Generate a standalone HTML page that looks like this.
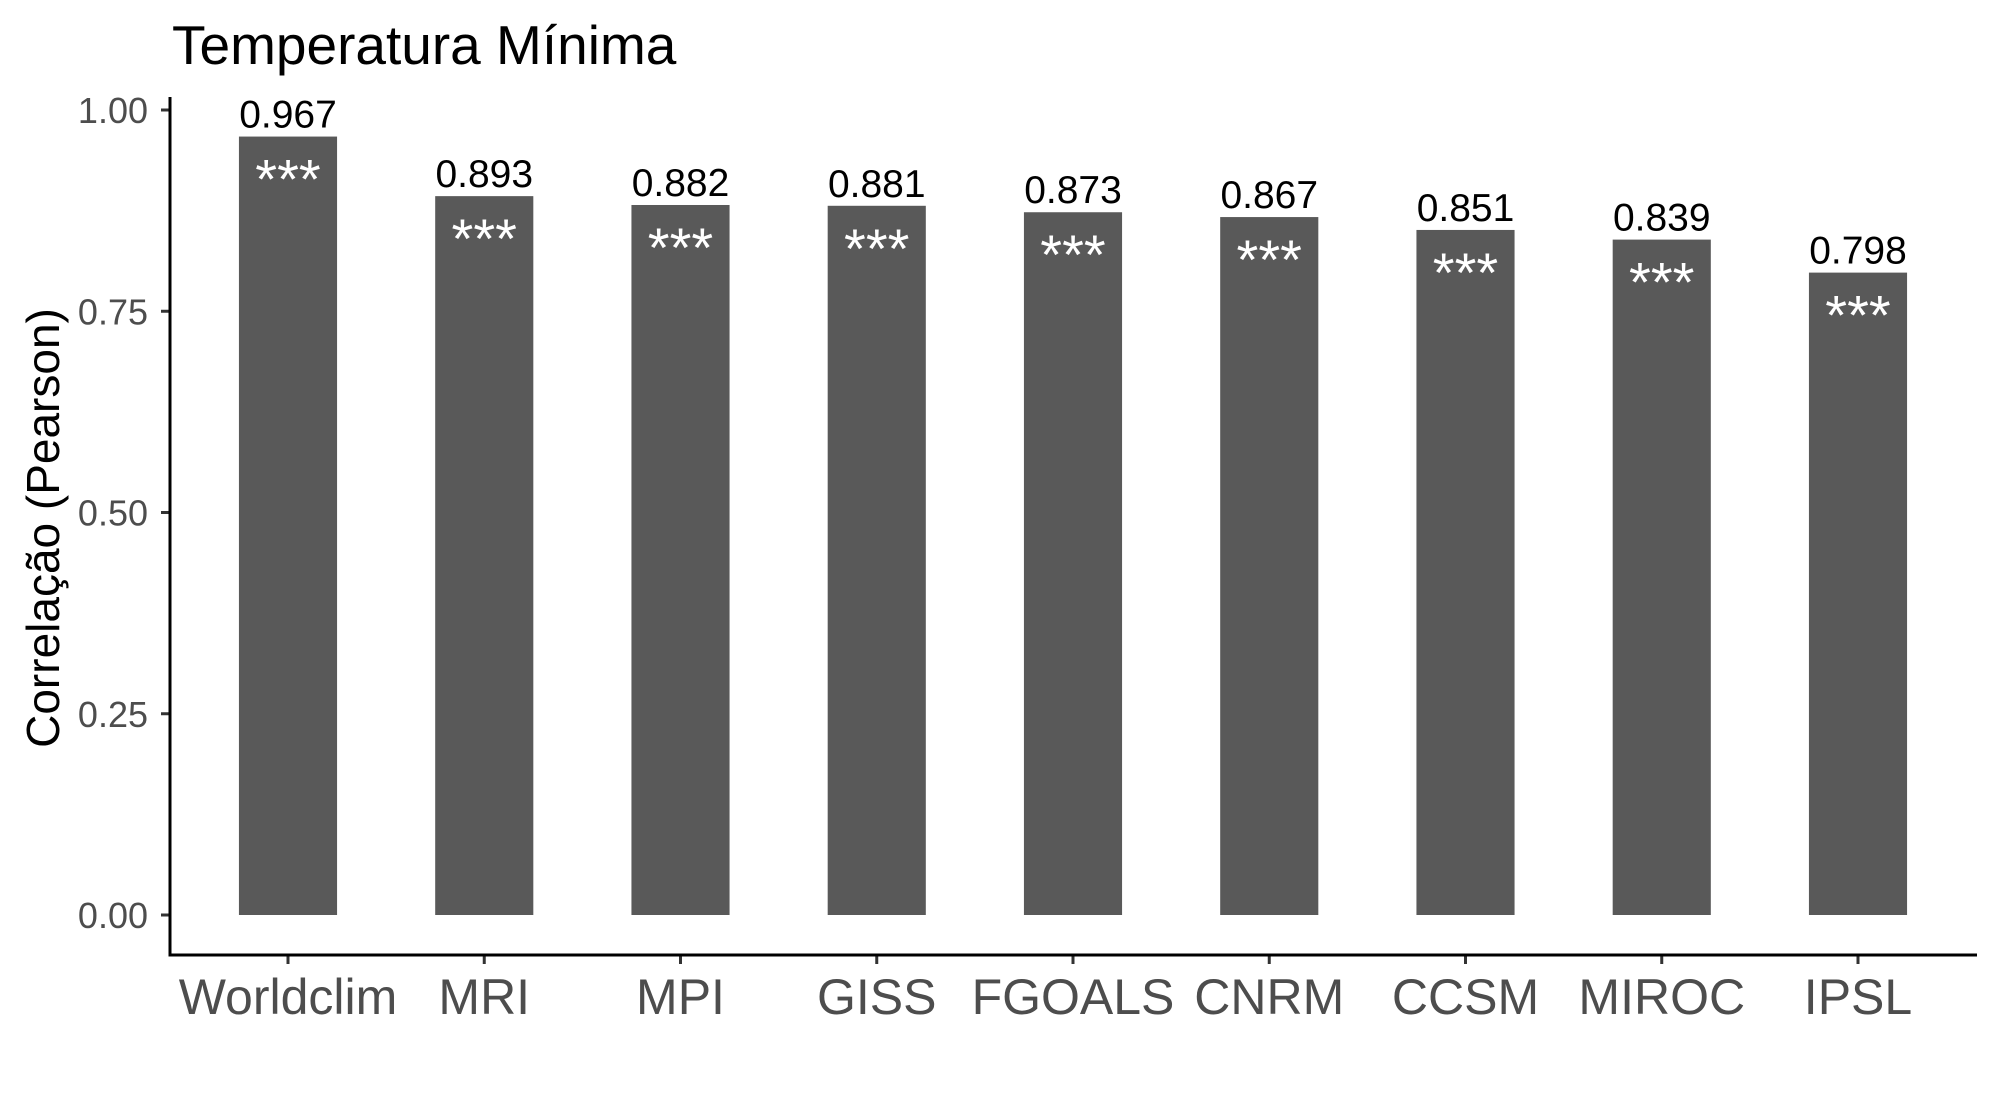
<!DOCTYPE html>
<html><head><meta charset="utf-8"><style>
html,body{margin:0;padding:0;background:#fff;}
svg{display:block;font-family:"Liberation Sans",Arial,sans-serif;}
</style></head><body>
<svg id="chart" width="2000" height="1100" viewBox="0 0 2000 1100">
<text x="172" y="64" font-size="55" fill="#000">Temperatura Mínima</text>
<text transform="translate(59,528) rotate(-90)" text-anchor="middle" font-size="46" fill="#000">Correlação (Pearson)</text>
<g id="bars"></g>
<g id="axes"></g>
</svg>
<script>
const categories = ["Worldclim","MRI","MPI","GISS","FGOALS","CNRM","CCSM","MIROC","IPSL"];
const values = [0.967,0.893,0.882,0.881,0.873,0.867,0.851,0.839,0.798];
const valueLabels = ["0.967","0.893","0.882","0.881","0.873","0.867","0.851","0.839","0.798"];
const signif = ["***","***","***","***","***","***","***","***","***"];
const yTicks = [0,0.25,0.5,0.75,1];
const yTickLabels = ["0.00","0.25","0.50","0.75","1.00"];

const NS="http://www.w3.org/2000/svg";
const y0=915, y1=110, xFirst=288, xLast=1858, axisY=955, axisX=170, axisRight=1977;
function yScale(v){return y0-(y0-y1)*v;}
function xScale(i){return xFirst+(xLast-xFirst)*i/(categories.length-1);}
const step=(xLast-xFirst)/(categories.length-1), bw=step*0.5;
function mk(tag,attrs,parent){const e=document.createElementNS(NS,tag);for(const k in attrs)e.setAttribute(k,attrs[k]);parent.appendChild(e);return e;}
const gb=document.getElementById('bars'), ga=document.getElementById('axes');
categories.forEach((c,i)=>{
  const cx=xScale(i), top=yScale(values[i]);
  const r=mk('rect',{x:cx-bw/2,y:top,width:bw,height:y0-top,fill:'#595959'},gb);
  
  
  const t=mk('text',{x:cx,y:top-9,'text-anchor':'middle','font-size':39,fill:'#000'},gb);
  t.textContent=valueLabels[i];
  
  
  const s=mk('text',{x:cx,y:top+62,'text-anchor':'middle','font-size':56,fill:'#fff'},gb);
  s.textContent=signif[i];
  
  
  const tk=mk('line',{x1:cx,x2:cx,y1:axisY,y2:axisY+9,stroke:'#333','stroke-width':3},ga);
  
  
  const xl=mk('text',{x:cx,y:1014,'text-anchor':'middle','font-size':50,fill:'#4d4d4d'},ga);
  xl.textContent=c;
  
  
});
yTicks.forEach((v,i)=>{
  const yy=yScale(v);
  const tk=mk('line',{x1:axisX-9,x2:axisX,y1:yy,y2:yy,stroke:'#333','stroke-width':3},ga);
  
  
  const tl=mk('text',{x:148,y:yy+13,'text-anchor':'end','font-size':36,fill:'#4d4d4d'},ga);
  tl.textContent=yTickLabels[i];
  
  
});
const ya=mk('line',{x1:axisX,x2:axisX,y1:97,y2:axisY+1.5,stroke:'#000','stroke-width':3},ga);


const xa=mk('line',{x1:axisX-1.5,x2:axisRight,y1:axisY,y2:axisY,stroke:'#000','stroke-width':3},ga);


</script>
</body></html>
